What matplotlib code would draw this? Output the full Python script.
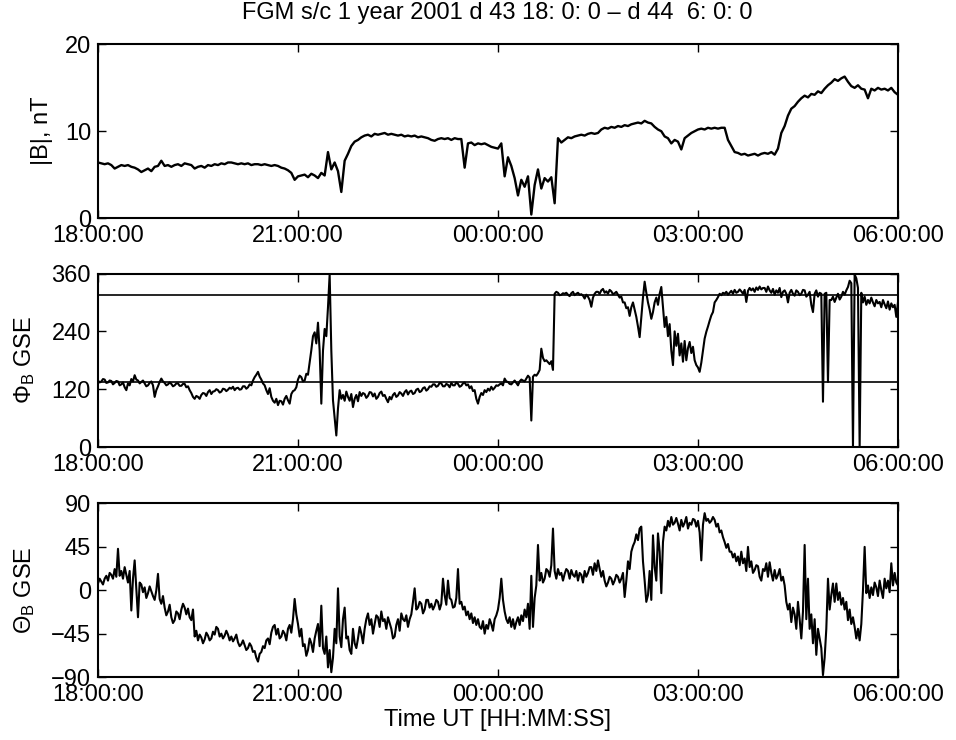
import numpy as np
import matplotlib
matplotlib.use('Agg')
import matplotlib.pyplot as plt

plt.rcParams['font.family'] = 'Liberation Sans'
plt.rcParams['mathtext.fontset'] = 'custom'
plt.rcParams['mathtext.rm'] = 'Liberation Sans'
plt.rcParams['mathtext.it'] = 'Liberation Sans:italic'

# minutes after 18:00 (d 43); |B| read every 3 min, angles every 1.5 min
t_b = np.arange(0, 721, 3)
t_ang = np.arange(0, 721, 1.5)

# one row per hour, 18:00 ... 05:00, plus the 06:00 value
b_mag = [
    6.4, 6.3, 6.2, 6.3, 6.1, 5.7, 5.9, 6.1, 6.0, 6.1, 5.9, 5.8, 5.6, 5.3, 5.5, 5.7, 5.4, 5.9, 6.0, 6.6,
    6.0, 6.1, 5.9, 6.1, 6.2, 6.0, 6.3, 6.2, 6.1, 5.7, 5.9, 6.0, 5.8, 6.1, 6.0, 6.2, 6.1, 6.3, 6.2, 6.4,
    6.4, 6.3, 6.2, 6.3, 6.2, 6.3, 6.1, 6.2, 6.2, 6.1, 6.2, 6.1, 6.0, 6.1, 6.0, 5.8, 5.7, 5.5, 5.2, 4.4,
    4.8, 4.9, 5.0, 4.7, 5.1, 4.9, 4.6, 5.2, 4.9, 7.6, 5.6, 6.4, 5.4, 3.0, 6.6, 7.4, 8.3, 8.8, 9.0, 9.3,
    9.5, 9.6, 9.4, 9.7, 9.6, 9.7, 9.8, 9.6, 9.7, 9.6, 9.5, 9.6, 9.4, 9.5, 9.4, 9.5, 9.3, 9.4, 9.3, 9.2,
    9.0, 8.9, 9.1, 9.2, 9.1, 9.2, 9.0, 9.2, 9.1, 9.1, 5.8, 8.6, 8.7, 8.4, 8.6, 8.5, 8.6, 8.4, 8.2, 8.1,
    8.0, 8.6, 4.8, 7.0, 6.0, 4.6, 2.6, 4.4, 3.6, 4.8, 0.4, 3.8, 5.6, 3.4, 4.6, 4.2, 4.7, 1.7, 9.2, 8.7,
    9.0, 9.3, 9.2, 9.4, 9.5, 9.6, 9.5, 9.7, 9.8, 9.7, 9.8, 10.2, 10.4, 10.3, 10.5, 10.4, 10.6, 10.5, 10.7, 10.6,
    10.8, 10.9, 11.0, 10.9, 11.2, 11.0, 10.9, 10.5, 10.2, 10.0, 9.4, 9.2, 8.6, 9.0, 8.8, 7.9, 9.2, 9.5, 9.8, 10.0,
    10.2, 10.3, 10.2, 10.4, 10.3, 10.4, 10.3, 10.4, 10.4, 9.0, 8.3, 7.6, 7.5, 7.3, 7.4, 7.2, 7.3, 7.4, 7.2, 7.4,
    7.5, 7.4, 7.6, 7.3, 8.0, 9.8, 10.6, 11.8, 12.6, 12.9, 13.4, 13.8, 14.1, 13.9, 14.3, 14.2, 14.6, 14.4, 14.9, 15.3,
    15.6, 16.0, 15.8, 16.1, 16.3, 15.7, 15.2, 15.0, 15.3, 14.9, 14.8, 13.8, 14.9, 14.7, 15.0, 14.8, 14.9, 14.7, 15.0, 14.5,
    14.2,
]

phi_b = [
    138, 134, 136, 141, 140, 133, 134, 138, 137, 130, 133, 137, 136, 128, 130, 134, 124, 118, 132, 128,
    141, 136, 149, 140, 138, 132, 135, 138, 132, 126, 128, 133, 136, 128, 104, 118, 126, 135, 142, 136,
    133, 128, 130, 134, 131, 126, 128, 132, 132, 127, 127, 131, 131, 124, 126, 118, 112, 104, 100, 106,
    104, 100, 108, 112, 111, 106, 114, 118, 110, 115, 116, 120, 118, 113, 115, 121, 120, 116, 119, 123,
    121, 125, 118, 122, 123, 119, 120, 126, 126, 121, 124, 130, 128, 138, 145, 150, 156, 146, 140, 132,
    128, 118, 110, 122, 104, 96, 92, 100, 87, 96, 95, 88, 100, 106, 97, 90, 110, 116, 118, 124,
    140, 148, 145, 136, 138, 152, 150, 175, 201, 230, 238, 215, 258, 200, 90, 200, 245, 230, 290, 358,
    200, 97, 60, 24, 80, 118, 100, 108, 96, 115, 104, 96, 110, 83, 100, 108, 95, 114, 106, 112,
    110, 102, 106, 114, 113, 105, 111, 100, 104, 112, 115, 106, 108, 100, 93, 104, 99, 108, 112, 104,
    107, 114, 111, 106, 114, 118, 109, 115, 117, 110, 112, 119, 121, 114, 116, 122, 124, 117, 120, 126,
    125, 130, 130, 125, 127, 133, 132, 126, 126, 131, 129, 124, 133, 128, 128, 134, 131, 125, 127, 132,
    134, 128, 130, 122, 126, 116, 118, 100, 90, 104, 112, 108, 118, 114, 121, 117, 125, 119, 123, 128,
    127, 130, 132, 128, 142, 136, 135, 131, 130, 134, 138, 133, 128, 136, 140, 138, 136, 142, 148, 144,
    55, 146, 150, 148, 153, 160, 204, 185, 178, 180, 176, 172, 178, 160, 318, 322, 320, 315, 316, 319,
    318, 320, 316, 313, 319, 322, 315, 318, 320, 316, 317, 314, 308, 316, 312, 305, 291, 310, 318, 322,
    322, 318, 325, 328, 320, 323, 318, 326, 323, 317, 319, 322, 316, 310, 312, 300, 300, 288, 290, 272,
    290, 300, 285, 270, 250, 228, 270, 310, 343, 320, 300, 285, 266, 280, 300, 310, 295, 318, 332, 290,
    249, 270, 230, 255, 200, 170, 240, 210, 235, 190, 215, 177, 220, 180, 205, 218, 195, 208, 180, 170,
    165, 156, 175, 200, 225, 239, 250, 262, 273, 280, 300, 305, 311, 318, 315, 320, 318, 322, 316, 320,
    324, 318, 326, 320, 322, 327, 323, 318, 326, 301, 324, 330, 325, 329, 322, 331, 326, 333, 327, 330,
    330, 322, 333, 325, 320, 328, 316, 325, 320, 330, 311, 322, 325, 318, 300, 320, 326, 318, 314, 325,
    322, 315, 318, 326, 325, 312, 316, 322, 295, 280, 318, 325, 312, 320, 318, 94, 318, 320, 135, 305,
    305, 312, 301, 310, 318, 306, 312, 322, 316, 325, 332, 345, 340, 0, 358, 350, 330, 0, 320, 300,
    312, 295, 305, 298, 310, 300, 292, 305, 298, 301, 290, 305, 296, 288, 302, 285, 298, 290, 295, 270,
    300,
]
phi_ref = [135, 315]

theta_b = [
    7, 12, 9, 6, 12, 15, 10, 18, 16, 12, 22, 14, 43, 15, 20, 12, 24, 16, 8, 20,
    -21, 12, 31, 2, -28, 8, 6, -2, 3, -8, -3, 4, -1, -6, -10, 0, 17, -9, -14, -6,
    -18, -26, -22, -15, -28, -34, -31, -22, -24, -30, -20, -14, -18, -25, -19, -28, -31, -20, -48, -42,
    -52, -46, -49, -55, -51, -44, -47, -52, -50, -43, -46, -38, -40, -48, -45, -50, -47, -42, -46, -52,
    -48, -53, -50, -46, -54, -58, -56, -52, -57, -62, -60, -55, -58, -64, -63, -70, -74, -66, -64, -58,
    -60, -52, -50, -56, -44, -38, -36, -46, -40, -50, -48, -42, -45, -52, -40, -36, -44, -30, -9, -25,
    -35, -48, -40, -58, -56, -68, -62, -50, -55, -64, -50, -42, -35, -58, -16, -60, -66, -48, -80, -62,
    -85, -70, -40, -55, 2, -48, -59, -30, -18, -50, -48, -62, -66, -40, -55, -60, -50, -38, -45, -55,
    -40, -30, -24, -36, -30, -45, -35, -26, -28, -38, -22, -32, -30, -40, -28, -34, -40, -50, -48, -36,
    -30, -42, -24, -30, -32, -26, -38, -30, -25, -12, 2, -20, -18, -12, -14, -24, -20, -10, -10, -18,
    -14, -20, -16, -10, -12, -20, -14, 12, -5, -15, 10, -8, -10, -18, -17, -8, 22, -14, -12, -20,
    -17, -26, -22, -30, -24, -34, -28, -36, -30, -38, -40, -32, -45, -36, -40, -30, -35, -42, -30, -26,
    -20, -8, 12, -10, -22, -30, -34, -28, -38, -30, -40, -33, -28, -36, -26, -32, -20, -28, -14, -40,
    15, -38, -8, 5, 47, 10, 18, 8, 12, 22, 20, 14, 26, 64, 20, 12, 22, 16, 18, 10,
    17, 22, 20, 12, 21, 16, 14, 20, 10, 18, 16, 8, 20, 14, 18, 24, 24, 16, 28, 20,
    31, 22, 14, 20, 10, 4, 8, 14, 12, 6, 10, 16, 14, 8, 12, 18, -7, 10, 30, 22,
    40, 46, 50, 58, 52, 64, 66, 30, 10, -12, -5, 20, -10, 57, 24, 10, 59, 40, -3, 50,
    66, 62, 72, 66, 76, 68, 70, 75, 69, 62, 73, 66, 70, 76, 64, 70, 68, 74, 73, 66,
    72, 60, 31, 68, 80, 72, 74, 70, 72, 76, 73, 66, 69, 60, 62, 55, 50, 44, 48, 40,
    40, 34, 38, 30, 35, 26, 40, 28, 33, 20, 45, 24, 30, 18, 21, 26, 25, 14, 10, 22,
    20, 28, 14, 29, 18, 10, 21, 12, 16, 22, 10, 14, 5, -12, -20, -14, -33, -18, -25, -40,
    -12, -30, -50, -22, 47, -30, 12, -40, -25, -55, -30, -67, -40, -50, -60, -88, -70, -40, 12, -20,
    -5, 7, -12, 7, -10, -2, -15, -8, -20, -12, -31, -20, -35, -28, -38, -50, -40, -52, -35, 0,
    45, -3, 5, -8, 3, -5, 8, 3, -6, 10, 0, -8, 12, 2, 10, -2, 28, 5, 18, 8,
    5,
]

tick_min = [0, 180, 360, 540, 720]
tick_lab = ['18:00:00', '21:00:00', '00:00:00', '03:00:00', '06:00:00']

fig = plt.figure(figsize=(9.56, 7.4), dpi=100)
left, width, height = 0.1025, 0.8368, 0.2345
ax1 = fig.add_axes([left, 0.7054, width, height])
ax2 = fig.add_axes([left, 0.3959, width, height])
ax3 = fig.add_axes([left, 0.0851, width, height])

ax1.plot(t_b, b_mag, color='k', lw=1.7)
ax1.set_ylim(0, 20)
ax1.set_yticks([0, 10, 20])
ax1.set_ylabel('|B|, nT', fontsize=17)
ax1.yaxis.set_label_coords(-0.056, 0.5)

ax2.plot(t_ang, phi_b, color='k', lw=1.5)
for v in phi_ref:
    ax2.axhline(v, color='k', lw=1.2)
ax2.set_ylim(0, 360)
ax2.set_yticks([0, 120, 240, 360])
ax2.set_ylabel(r'$\Phi_\mathrm{B}$ GSE', fontsize=17)
ax2.yaxis.set_label_coords(-0.076, 0.5)

ax3.plot(t_ang, theta_b, color='k', lw=1.5)
ax3.set_ylim(-90, 90)
ax3.set_yticks([-90, -45, 0, 45, 90])
ax3.set_yticklabels(['\u221290', '\u221245', '0', '45', '90'])
ax3.set_ylabel(r'$\Theta_\mathrm{B}$ GSE', fontsize=17)
ax3.yaxis.set_label_coords(-0.076, 0.5)
ax3.set_xlabel('Time UT [HH:MM:SS]', fontsize=17, labelpad=2)

for ax in (ax1, ax2, ax3):
    ax.set_xlim(0, 720)
    ax.set_xticks(tick_min)
    ax.set_xticklabels(tick_lab)
    ax.tick_params(direction='in', top=True, right=True, length=6, width=1.0,
                   labelsize=17, pad=5)
    for s in ax.spines.values():
        s.set_linewidth(1.5)

fig.text(0.52, 0.982, 'FGM s/c 1 year 2001 d 43 18: 0: 0 \u2013 d 44  6: 0: 0',
         ha='center', va='center', fontsize=17)

fig.savefig('out.png', dpi=100)
